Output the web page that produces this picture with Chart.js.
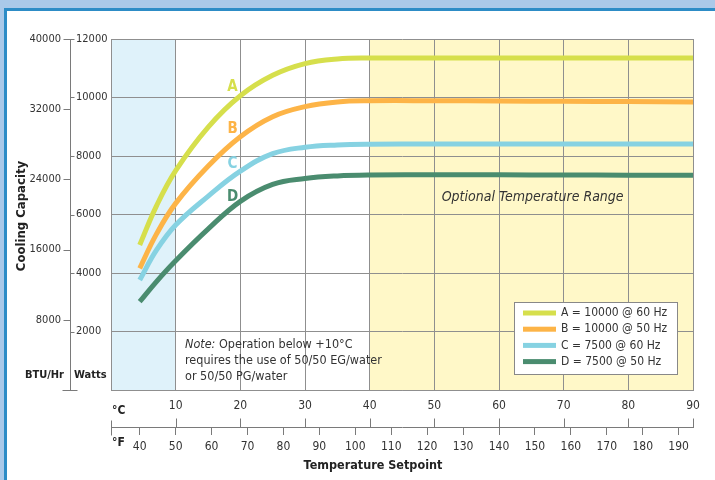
<!DOCTYPE html>
<html>
<head>
<meta charset="utf-8">
<title>Cooling Capacity</title>
<script src="https://cdn.jsdelivr.net/npm/chart.js@4.4.1/dist/chart.umd.min.js"></script>
<style>
    html, body { margin: 0; padding: 0; }
    body { width: 715px; height: 480px; background: #aac9e9; position: relative; overflow: hidden; }
    #panel { position: absolute; left: 4px; top: 8px; right: 0; bottom: 0; background: #fff;
             border-left: 3px solid #2d8cc6; border-top: 3px solid #2d8cc6; }
    #wrap { position: absolute; left: 0; top: 0; width: 715px; height: 480px; }
</style>
</head>
<body>
<div id="panel"></div>
<div id="wrap"><canvas id="coolingChart" width="715" height="480"></canvas></div>
<script>
// ---- data ----
const tempC = [4.44, 7, 10, 15, 20, 25, 30, 35, 40, 50, 60, 70, 80, 90];
const capA = [4960, 6280, 7500, 8980, 10060, 10760, 11160, 11320, 11350, 11350, 11350, 11350, 11350, 11350];
const capB = [4160, 5320, 6380, 7650, 8660, 9345, 9690, 9850, 9890, 9890, 9880, 9870, 9860, 9850];
const capC = [3760, 4770, 5640, 6620, 7480, 8080, 8300, 8380, 8405, 8410, 8410, 8410, 8410, 8410];
const capD = [3020, 3700, 4420, 5500, 6450, 7030, 7230, 7320, 7350, 7355, 7355, 7350, 7345, 7340];

const seriesTags = ['A', 'B', 'C', 'D'];
const seriesLabels = ['A = 10000 @ 60 Hz', 'B = 10000 @ 50 Hz', 'C = 7500 @ 60 Hz', 'D = 7500 @ 50 Hz'];
const seriesColors = ['#d6df4c', '#fdb447', '#86d2e2', '#4a8c6f'];

const celsiusTicks = [10, 20, 30, 40, 50, 60, 70, 80, 90];
const fahrenheitTicks = [40, 50, 60, 70, 80, 90, 100, 110, 120, 130, 140, 150, 160, 170, 180, 190];
const wattsTicks = [2000, 4000, 6000, 8000, 10000, 12000];
const btuTicks = [8000, 16000, 24000, 32000, 40000];

const coldZone = [0, 10];      // °C, needs glycol
const optionalZone = [40, 90]; // °C, optional range

// ---- styles ----
const FONT = "'Liberation Sans Narrow', 'DejaVu Sans Condensed', 'Liberation Sans', sans-serif";
const GRID = '#8f8f8f';
const AXIS = '#7a7a7a';
const TEXT = '#333333';

Chart.defaults.font.family = FONT;
Chart.defaults.color = TEXT;

function points(values) {
    return tempC.map((t, i) => ({ x: t, y: values[i] }));
}

const allCaps = [capA, capB, capC, capD];

// backgrounds, hand-made axis bits, labels and legend
const decorPlugin = {
    id: 'decor',
    beforeDraw(chart) {
        const { ctx, chartArea: a, scales } = chart;
        const x = scales.x;
        ctx.save();
        ctx.fillStyle = '#dff2fa';
        ctx.fillRect(x.getPixelForValue(coldZone[0]), a.top,
            x.getPixelForValue(coldZone[1]) - x.getPixelForValue(coldZone[0]), a.bottom - a.top);
        ctx.fillStyle = '#fff8c8';
        ctx.fillRect(x.getPixelForValue(optionalZone[0]), a.top,
            x.getPixelForValue(optionalZone[1]) - x.getPixelForValue(optionalZone[0]), a.bottom - a.top);
        ctx.restore();
    },
    afterDraw(chart) {
        const { ctx, scales } = chart;
        const x = scales.x, xF = scales.xF, y = scales.y, yB = scales.yBtu;
        ctx.save();

        // shared vertical axis line for BTU / Watts
        const axX = 70.5;
        ctx.strokeStyle = AXIS;
        ctx.lineWidth = 1;
        ctx.beginPath();
        ctx.moveTo(axX, yB.getPixelForValue(40000));
        ctx.lineTo(axX, yB.getPixelForValue(0));
        btuTicks.forEach(v => {
            const py = Math.round(yB.getPixelForValue(v)) + 0.5;
            ctx.moveTo(axX - 7, py); ctx.lineTo(axX, py);
        });
        wattsTicks.forEach(v => {
            const py = Math.round(y.getPixelForValue(v)) + 0.5;
            ctx.moveTo(axX, py); ctx.lineTo(axX + 4, py);
        });
        const py0 = Math.round(yB.getPixelForValue(0)) + 0.5;
        ctx.moveTo(axX - 8, py0); ctx.lineTo(axX + 7, py0);
        ctx.stroke();

        // celsius tick marks pointing up from the shared x line
        const baseY = xF.top + 0.5;
        ctx.beginPath();
        celsiusTicks.forEach(v => {
            const px = Math.round(x.getPixelForValue(v)) + 0.5;
            ctx.moveTo(px, baseY - 9); ctx.lineTo(px, baseY);
        });
        const px0 = Math.round(x.getPixelForValue(0)) + 0.5;
        ctx.moveTo(px0, baseY - 7); ctx.lineTo(px0, baseY + 8);
        ctx.stroke();

        // axis captions
        ctx.fillStyle = '#222';
        ctx.font = 'bold 12px ' + FONT;
        ctx.textBaseline = 'middle';
        ctx.textAlign = 'left';
        ctx.fillText('°C', 112, 411);
        ctx.fillText('°F', 112, 443);
        ctx.font = 'bold 11px ' + FONT;
        ctx.textAlign = 'right';
        ctx.fillText('BTU/Hr', 64, 375);
        ctx.textAlign = 'left';
        ctx.fillText('Watts', 74, 375);
        ctx.textAlign = 'center';
        ctx.font = 'bold 12.5px ' + FONT;
        ctx.fillText('Temperature Setpoint', 373, 466);
        ctx.font = 'bold 13px ' + FONT;
        ctx.save();
        ctx.translate(22, 216);
        ctx.rotate(-Math.PI / 2);
        ctx.fillText('Cooling Capacity', 0, 0);
        ctx.restore();

        // curve tags
        const tagPos = [10370, 8910, 7725, 6610];
        ctx.font = 'bold 15px ' + FONT;
        seriesTags.forEach((t, i) => {
            ctx.fillStyle = seriesColors[i];
            ctx.fillText(t, x.getPixelForValue(18.8), y.getPixelForValue(tagPos[i]));
        });

        // optional range caption
        ctx.fillStyle = TEXT;
        ctx.font = 'italic 14px ' + FONT;
        ctx.fillText('Optional Temperature Range', x.getPixelForValue(65.2), y.getPixelForValue(6600));

        // note
        ctx.textAlign = 'left';
        const nx = 185;
        ctx.font = 'italic 12.5px ' + FONT;
        ctx.fillText('Note:', nx, 345);
        const nw = ctx.measureText('Note:').width;
        ctx.font = '12.5px ' + FONT;
        ctx.fillText(' Operation below +10°C', nx + nw, 345);
        ctx.fillText('requires the use of 50/50 EG/water', nx, 361);
        ctx.fillText('or 50/50 PG/water', nx, 377);

        // legend
        const lx = 514.5, ly = 302.5, lw = 163, lh = 72;
        ctx.fillStyle = '#ffffff';
        ctx.fillRect(lx, ly, lw, lh);
        ctx.strokeStyle = '#888';
        ctx.strokeRect(lx, ly, lw, lh);
        ctx.font = '12px ' + FONT;
        chart.data.datasets.forEach((ds, i) => {
            const ry = 313 + i * 16.2;
            ctx.fillStyle = ds.borderColor;
            ctx.fillRect(523, ry - 2.5, 33, 5);
            ctx.fillStyle = TEXT;
            ctx.fillText(ds.label, 561, ry);
        });

        ctx.restore();
    }
};

const coolingChart = new Chart(document.getElementById('coolingChart'), {
    type: 'line',
    data: {
        datasets: allCaps.map((caps, i) => ({
            label: seriesLabels[i],
            data: points(caps),
            borderColor: seriesColors[i],
            backgroundColor: seriesColors[i],
            borderWidth: 5,
            borderCapStyle: 'butt',
            pointRadius: 0,
            tension: 0.4,
            fill: false
        }))
    },
    options: {
        responsive: false,
        animation: false,
        layout: { padding: { left: 26, top: 39, right: 22, bottom: 0 } },
        plugins: {
            legend: { display: false },
            tooltip: { enabled: false }
        },
        scales: {
            x: {
                type: 'linear', position: 'bottom', weight: 0,
                min: 0, max: 90,
                afterBuildTicks: s => { s.ticks = [0].concat(celsiusTicks).map(v => ({ value: v })); },
                ticks: {
                    callback: v => (v === 0 ? '' : String(v)),
                    padding: 9, maxRotation: 0, autoSkip: false,
                    font: { size: 12 }, color: TEXT
                },
                grid: { color: GRID, drawTicks: false, lineWidth: 1 },
                border: { display: true, color: GRID },
                afterFit: s => { s.height = 37; }
            },
            xF: {
                type: 'linear', position: 'bottom', weight: 1,
                min: 32, max: 194,
                afterBuildTicks: s => { s.ticks = fahrenheitTicks.map(v => ({ value: v })); },
                ticks: {
                    callback: v => String(v),
                    padding: 5, maxRotation: 0, autoSkip: false,
                    font: { size: 12 }, color: TEXT
                },
                grid: { drawOnChartArea: false, drawTicks: true, tickLength: 8, color: AXIS },
                border: { display: true, color: AXIS },
                afterFit: s => { s.height = 53; }
            },
            y: {
                type: 'linear', position: 'left', weight: 0,
                min: 0, max: 12000,
                afterBuildTicks: s => { s.ticks = [0].concat(wattsTicks).map(v => ({ value: v })); },
                ticks: {
                    callback: v => (v === 0 ? '' : String(v)),
                    crossAlign: 'far', padding: 0,
                    font: { size: 11 }, color: TEXT
                },
                grid: { color: GRID, drawTicks: false, lineWidth: 1 },
                border: { display: true, color: GRID },
                afterFit: s => { s.width = 35; }
            },
            yBtu: {
                type: 'linear', position: 'left', weight: 1,
                min: 0, max: 40000,
                afterBuildTicks: s => { s.ticks = [0].concat(btuTicks).map(v => ({ value: v })); },
                ticks: {
                    callback: v => (v === 0 ? '' : String(v)),
                    padding: 15,
                    font: { size: 11 }, color: TEXT
                },
                grid: { drawOnChartArea: false, drawTicks: false },
                border: { display: false },
                afterFit: s => { s.width = 50; }
            }
        }
    },
    plugins: [decorPlugin]
});
</script>
</body>
</html>
